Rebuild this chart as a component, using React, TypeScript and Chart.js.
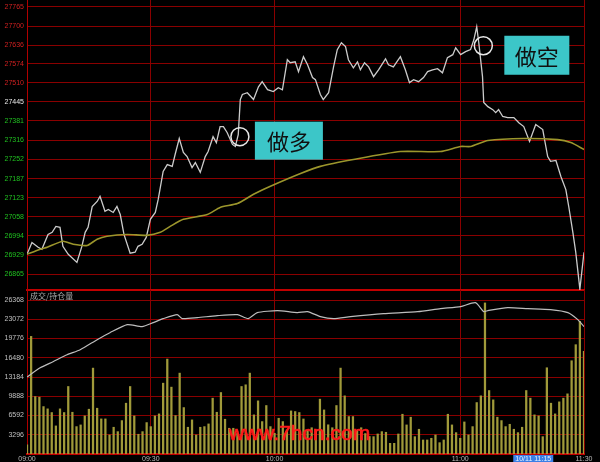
import React, { useEffect, useRef } from "react";
import { Chart, registerables } from "chart.js";

Chart.register(...registerables);

// ---- data ----
const timeTicks = [0, 30, 60, 105, 135];
const timeLabels = ["09:00", "09:30", "10:00", "11:00", "11:30"];

const priceTicks = [27765, 27700, 27636, 27574, 27510, 27445, 27381, 27316, 27252, 27187, 27123, 27058, 26994, 26929, 26865];
const prevClose = 27445;

const priceMinutes = [0, 1.2, 2.7, 3.6, 5.1, 6.1, 7.0, 8.0, 8.7, 10.0, 12.1, 13.3, 14.1, 14.8, 15.8, 17.0, 17.7, 18.9, 19.7, 20.9, 21.8, 22.6, 23.5, 25.0, 26.2, 26.9, 27.9, 28.9, 29.9, 31.1, 31.8, 33.0, 34.0, 35.2, 35.9, 36.9, 37.9, 38.8, 40.0, 40.8, 42.0, 43.2, 43.9, 45.1, 45.9, 46.8, 47.6, 48.5, 49.8, 50.5, 51.2, 51.7, 52.2, 53.4, 54.9, 56.1, 57.0, 58.3, 59.7, 60.9, 61.9, 63.1, 63.8, 65.0, 65.8, 67.0, 68.0, 69.2, 69.9, 71.1, 71.8, 73.1, 74.3, 75.2, 76.2, 77.2, 77.9, 79.1, 80.1, 80.8, 81.8, 82.8, 84.0, 85.2, 86.9, 87.6, 88.8, 90.5, 91.7, 92.7, 93.7, 94.9, 96.1, 97.1, 98.3, 99.5, 100.7, 101.9, 103.2, 103.9, 105.1, 106.3, 107.5, 108.3, 109.0, 109.5, 110.4, 110.7, 111.7, 112.9, 113.6, 114.3, 115.3, 116.5, 118.0, 119.2, 120.4, 121.8, 123.3, 125.0, 126.2, 126.9, 128.2, 129.4, 130.6, 131.3, 132.3, 133.0, 134.0, 135.0];
const priceValues = [26932, 26972, 26956, 26949, 26999, 27006, 27026, 27023, 26959, 26932, 26905, 26959, 27006, 27023, 27093, 27110, 27127, 27077, 27083, 27073, 27093, 27066, 26999, 26936, 26939, 26959, 26966, 26989, 27050, 27073, 27117, 27211, 27234, 27228, 27268, 27322, 27275, 27261, 27224, 27241, 27208, 27261, 27278, 27328, 27308, 27362, 27362, 27342, 27302, 27295, 27335, 27453, 27470, 27476, 27453, 27496, 27513, 27486, 27480, 27493, 27486, 27587, 27577, 27580, 27547, 27597, 27570, 27527, 27520, 27470, 27453, 27476, 27563, 27621, 27644, 27631, 27587, 27560, 27580, 27553, 27577, 27563, 27530, 27553, 27590, 27570, 27563, 27597, 27553, 27510, 27520, 27513, 27527, 27547, 27553, 27557, 27543, 27594, 27604, 27627, 27604, 27614, 27621, 27654, 27698, 27644, 27530, 27443, 27429, 27419, 27409, 27419, 27396, 27392, 27392, 27375, 27362, 27312, 27369, 27352, 27261, 27245, 27248, 27194, 27150, 27093, 27006, 26939, 26815, 26939];

const avgMinutes = [0, 3.2, 4.9, 8.7, 11.2, 14.6, 17.0, 19.4, 24.3, 29.1, 32.3, 34.7, 37.9, 43.7, 46.8, 51.0, 54.9, 59.0, 66.3, 71.1, 79.1, 90.5, 100.2, 105.1, 107.5, 111.7, 120.4, 128.6, 131.8, 135];
const avgValues = [26932, 26949, 26956, 26976, 26966, 26962, 26983, 26993, 26999, 26996, 27006, 27026, 27050, 27066, 27090, 27103, 27134, 27161, 27204, 27228, 27251, 27278, 27278, 27295, 27295, 27315, 27322, 27318, 27308, 27285];

const volumeTicks = [3296, 6592, 9888, 13184, 16480, 19776, 23072, 26368];
// one bar per trading minute, index 0 = 09:00
const volumeValues = [1550, 20140, 9840, 9730, 8120, 7730, 7100, 4810, 7730, 7100, 11560, 7150, 4690, 4980, 6520, 7670, 14710, 7840, 6010, 6010, 3260, 4580, 3830, 5720, 8700, 11560, 6520, 3380, 3830, 5380, 4690, 6520, 6870, 12130, 16250, 11450, 6580, 13850, 7950, 4580, 5840, 3260, 4580, 4690, 5150, 9560, 7150, 10530, 5950, 4410, 4410, 3550, 11560, 11850, 13850, 6700, 9100, 5550, 8300, 4690, 3550, 6120, 5550, 4120, 7380, 7270, 7100, 6000, 4000, 4500, 4120, 9390, 7550, 5000, 4500, 8300, 14710, 9960, 6410, 6410, 4000, 4500, 3500, 3000, 2970, 3430, 3830, 3720, 1830, 1830, 3430, 6810, 4980, 6300, 2970, 4240, 2400, 2400, 2690, 3260, 1940, 2400, 6810, 4980, 3660, 2690, 5490, 3260, 4690, 8810, 9960, 25870, 10870, 9270, 6300, 5720, 4690, 5090, 4240, 3660, 4580, 10870, 9560, 6700, 6520, 2970, 14770, 8700, 6870, 8930, 9560, 10300, 15970, 18720, 22720, 17570];

const oiMinutes = [0, 3.2, 6.3, 9.7, 12.9, 17.0, 20.1, 24.3, 27.9, 30.6, 33.0, 36.4, 37.6, 41.3, 46.1, 51.0, 53.6, 55.8, 60.7, 65.5, 68.0, 71.1, 74.3, 78.4, 86.4, 94.7, 100.2, 105.1, 108.7, 110.7, 111.7, 116.5, 121.4, 126.9, 131.1, 133.5, 135.0];
const oiValues = [13200, 14764, 15796, 16998, 17857, 19574, 20776, 22149, 21806, 22493, 23180, 23866, 23180, 23351, 23695, 23866, 23180, 24210, 24553, 24210, 24381, 23523, 23180, 23523, 24038, 24381, 24897, 25240, 25927, 24381, 24553, 25068, 24897, 24725, 24210, 23008, 21806];

const noteLabels = ["做多", "做空"];
const noteMinutes = [51.6, 110.6];
const notePrices = [27328, 27634];

const cursorMinute = 122.7;
const cursorLabel = "10/11 11:15";
const volumeTitle = "成交/持仓量";
const watermark = "www.7hcn.com";

const GRID = "#8a0000";
const FONT = "'Liberation Sans', Arial, sans-serif";

function xyPairs(xs: number[], ys: number[]) {
  return xs.map((x, i) => ({ x, y: ys[i] }));
}

export default function App() {
  const priceRef = useRef<HTMLCanvasElement>(null);
  const volRef = useRef<HTMLCanvasElement>(null);

  useEffect(() => {
    document.body.style.margin = "0";
    document.body.style.background = "#000";

    const yAxisFit = (scale: any) => {
      scale.width = 27;
      scale.paddingTop = 0;
      scale.paddingBottom = 0;
    };

    const xScaleBase = (showLabels: boolean) => ({
      type: "linear" as const,
      min: 0,
      max: 135,
      offset: false,
      afterBuildTicks: (scale: any) => {
        scale.ticks = timeTicks.map((v) => ({ value: v }));
      },
      afterFit: (scale: any) => {
        scale.height = showLabels ? 8 : 0;
        scale.paddingLeft = 0;
        scale.paddingRight = 0;
      },
      grid: { color: GRID, lineWidth: 1, drawTicks: false, offset: false },
      border: { display: true, color: "#c00000", width: 2 },
      ticks: {
        display: showLabels,
        autoSkip: false,
        maxRotation: 0,
        padding: 1,
        color: "#b8b8b8",
        font: { size: 7, family: FONT },
        callback: (v: any) => {
          const idx = timeTicks.indexOf(Number(v));
          return idx >= 0 ? timeLabels[idx] : "";
        },
      },
    });

    const notesPlugin = {
      id: "notes",
      afterDatasetsDraw(chart: any) {
        const { ctx, scales } = chart;
        ctx.save();
        noteLabels.forEach((label, i) => {
          const cx = scales.x.getPixelForValue(noteMinutes[i]);
          const cy = scales.y.getPixelForValue(notePrices[i]);
          ctx.beginPath();
          ctx.arc(cx, cy, 9, 0, Math.PI * 2);
          ctx.strokeStyle = "#e8e8e8";
          ctx.lineWidth = 1.5;
          ctx.stroke();
          const bx = i === 0 ? cx + 15 : cx + 21;
          const by = i === 0 ? cy - 15 : cy - 10;
          const bw = i === 0 ? 68 : 65;
          const bh = i === 0 ? 38 : 39;
          ctx.fillStyle = "#3cc6c8";
          ctx.fillRect(bx, by, bw, bh);
          ctx.fillStyle = "#101010";
          ctx.font = "22px 'Noto Sans CJK SC', sans-serif";
          ctx.textAlign = "center";
          ctx.textBaseline = "middle";
          ctx.fillText(label, bx + bw / 2, by + bh / 2 + 1);
        });
        ctx.restore();
      },
    };

    const priceChart = new Chart(priceRef.current!, {
      type: "line",
      data: {
        datasets: [
          {
            data: xyPairs(avgMinutes, avgValues),
            borderColor: "#9c962c",
            borderWidth: 1.6,
            pointRadius: 0,
            tension: 0.2,
          },
          {
            data: xyPairs(priceMinutes, priceValues),
            borderColor: "#cccccc",
            borderWidth: 1.3,
            pointRadius: 0,
            tension: 0,
          },
        ],
      },
      options: {
        animation: false,
        responsive: false,
        devicePixelRatio: 1,
        layout: { padding: { left: 0, right: 16, top: 0, bottom: 1 } },
        plugins: { legend: { display: false }, tooltip: { enabled: false } },
        scales: {
          x: xScaleBase(false) as any,
          y: {
            type: "linear",
            min: 26812,
            max: 27788,
            afterFit: yAxisFit,
            afterBuildTicks: (scale: any) => {
              scale.ticks = priceTicks.map((v) => ({ value: v }));
            },
            grid: { color: GRID, lineWidth: 1, drawTicks: false },
            border: { display: true, color: "#b00000", width: 1 },
            ticks: {
              autoSkip: false,
              padding: 3,
              font: { size: 7, family: FONT },
              color: (c: any) => {
                const v = c.tick && c.tick.value;
                if (v === prevClose) return "#e8e8e8";
                return v > prevClose ? "#d02020" : "#20c020";
              },
              callback: (v: any) => String(v),
            },
          },
        },
      },
      plugins: [notesPlugin],
    });

    const volPlugin = {
      id: "volExtras",
      afterDatasetsDraw(chart: any) {
        const { ctx, chartArea } = chart;
        ctx.save();
        ctx.fillStyle = "#a8a8a8";
        ctx.font = "8px 'Noto Sans CJK SC', sans-serif";
        ctx.textAlign = "left";
        ctx.textBaseline = "middle";
        ctx.fillText(volumeTitle, chartArea.left + 3, chartArea.top + 6);
        ctx.fillStyle = "#ff1a1a";
        ctx.strokeStyle = "#ff1a1a";
        ctx.lineWidth = 0.7;
        ctx.font = "21px " + FONT;
        ctx.textBaseline = "alphabetic";
        ctx.fillText(watermark, 229, 150);
        ctx.strokeText(watermark, 229, 150);
        ctx.restore();
      },
      afterDraw(chart: any) {
        const { ctx, chartArea, scales } = chart;
        ctx.save();
        const cx = scales.x.getPixelForValue(cursorMinute);
        const w = 40;
        ctx.fillStyle = "#3a7fe6";
        ctx.fillRect(cx - w / 2, chartArea.bottom + 1, w, 9);
        ctx.fillStyle = "#e6f0ff";
        ctx.font = "7px " + FONT;
        ctx.textAlign = "center";
        ctx.textBaseline = "middle";
        ctx.fillText(cursorLabel, cx, chartArea.bottom + 5.5);
        ctx.restore();
      },
    };

    const volChart = new Chart(volRef.current!, {
      type: "bar",
      data: {
        datasets: [
          {
            type: "line",
            data: xyPairs(oiMinutes, oiValues),
            borderColor: "#bdbdbd",
            borderWidth: 1.2,
            pointRadius: 0,
            tension: 0.2,
            order: 0,
          } as any,
          {
            type: "bar",
            data: volumeValues.map((v, i) => ({ x: i, y: v })),
            backgroundColor: "#a09a3a",
            barThickness: 1.6,
            order: 1,
          } as any,
        ],
      },
      options: {
        animation: false,
        responsive: false,
        devicePixelRatio: 1,
        layout: { padding: { left: 0, right: 16, top: 0, bottom: 0 } },
        plugins: { legend: { display: false }, tooltip: { enabled: false } },
        scales: {
          x: xScaleBase(true) as any,
          y: {
            type: "linear",
            min: 0,
            max: 28085,
            afterFit: yAxisFit,
            afterBuildTicks: (scale: any) => {
              scale.ticks = volumeTicks.map((v) => ({ value: v }));
            },
            grid: { color: GRID, lineWidth: 1, drawTicks: false },
            border: { display: true, color: "#b00000", width: 1 },
            ticks: {
              autoSkip: false,
              padding: 3,
              font: { size: 7, family: FONT },
              color: "#c0c0c0",
              callback: (v: any) => String(v),
            },
          },
        },
      },
      plugins: [volPlugin],
    });

    return () => {
      priceChart.destroy();
      volChart.destroy();
    };
  }, []);

  return (
    <div style={{ position: "fixed", left: 0, top: 0, width: 600, height: 462, background: "#000", overflow: "hidden" }}>
      <canvas ref={priceRef} width={600} height={291} style={{ position: "absolute", left: 0, top: 0 }} />
      <canvas ref={volRef} width={600} height={172} style={{ position: "absolute", left: 0, top: 290 }} />
    </div>
  );
}
